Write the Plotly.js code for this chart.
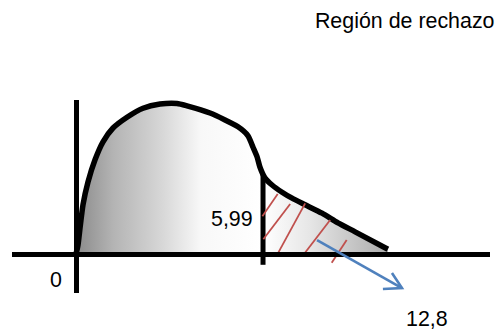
<!DOCTYPE html>
<html>
<head>
<meta charset="utf-8">
<script src="https://cdn.plot.ly/plotly-3.0.1.min.js"></script>
<style>html,body{margin:0;padding:0;background:#fff;}#chart{width:495px;height:332px;}</style>
</head>
<body>
<div id="chart"></div>
<script>
// Chi-square density sketch (schematic values)
var curveX = [0, 0.064, 0.128, 0.224, 0.384, 0.609, 0.865, 1.185, 1.634, 2.146, 2.691, 3.235, 3.555, 4.292, 5.189, 5.51, 5.67, 5.80, 5.89, 6.05, 6.28, 6.60, 6.92, 7.34, 7.88, 8.39, 8.94, 9.99];
var curveY = [0, 0.015, 0.043, 0.082, 0.120, 0.157, 0.187, 0.210, 0.228, 0.243, 0.250, 0.251, 0.247, 0.235, 0.212, 0.197, 0.178, 0.162, 0.145, 0.127, 0.115, 0.103, 0.093, 0.082, 0.068, 0.052, 0.037, 0.008];
var criticalValue = 5.99;
var criticalLineY = [-0.018, 0.132];
// rejection-region hatch strokes (start/end pairs)
var hatchX = [5.97, 6.46, null, 6.00, 6.86, null, 6.48, 7.34, null, 7.28, 8.14, null, 8.19, 8.67];
var hatchY = [0.063, 0.100, null, 0.0245, 0.0833, null, 0.0022, 0.0845, null, -0.0017, 0.0567, null, -0.0145, 0.0233];
// arrow towards the observed value: tail, tip, and the two barb ends
var arrowX = [7.72, 10.44];
var arrowY = [0.0233, -0.0567];
var barbX = [10.12, 9.83];
var barbY = [-0.0317, -0.0583];
var labelZero = '0';
var labelCritical = '5,99';
var labelObserved = '12,8';
var titleText = 'Región de rechazo';

var font = {family: '"Liberation Sans", Arial, sans-serif', size: 21.4, color: '#000'};
var arrowColor = '#4f81bd';

var traces = [
  {
    x: curveX, y: curveY, type: 'scatter', mode: 'lines',
    line: {color: '#000', width: 5.5, shape: 'spline', smoothing: 0.6},
    fill: 'tozeroy',
    fillgradient: {
      type: 'horizontal', start: 0, stop: 10,
      colorscale: [[0, '#8a8a8a'], [0.12, '#b4b4b4'], [0.28, '#d8d8d8'], [0.4, '#f8f8f8'], [0.6, '#ffffff'], [0.75, '#e6e6e6'], [1, '#ababab']]
    },
    hoverinfo: 'skip', showlegend: false
  },
  {
    x: [criticalValue, criticalValue], y: criticalLineY, type: 'scatter', mode: 'lines',
    line: {color: '#000', width: 5}, hoverinfo: 'skip', showlegend: false
  },
  {
    x: hatchX, y: hatchY, type: 'scatter', mode: 'lines',
    line: {color: '#c0504d', width: 1.8}, connectgaps: false, hoverinfo: 'skip', showlegend: false
  }
];

var shapes = [
  {type: 'line', xref: 'x', yref: 'y', layer: 'above',
   x0: arrowX[0], y0: arrowY[0], x1: arrowX[1], y1: arrowY[1],
   line: {color: arrowColor, width: 2.6}},
  {type: 'path', xref: 'x', yref: 'y', layer: 'above',
   path: 'M' + barbX[0] + ',' + barbY[0] + 'L' + arrowX[1] + ',' + arrowY[1] + 'L' + barbX[1] + ',' + barbY[1],
   line: {color: arrowColor, width: 2.6}, fillcolor: 'rgba(0,0,0,0)'}
];

var layout = {
  width: 495, height: 332,
  margin: {l: 12, r: 5, t: 100, b: 39, pad: 0},
  paper_bgcolor: '#fff', plot_bgcolor: 'rgba(0,0,0,0)',
  showlegend: false,
  font: font,
  title: {text: titleText, font: font, x: 0.999, xanchor: 'right', xref: 'container', y: 0.937, yanchor: 'middle', yref: 'container'},
  xaxis: {range: [-2.05, 13.26], showgrid: false, showticklabels: false, ticks: '', showline: false,
          zeroline: true, zerolinecolor: '#000', zerolinewidth: 5, zerolinelayer: 'above traces', fixedrange: true},
  yaxis: {range: [-0.065, 0.2567], showgrid: false, showticklabels: false, ticks: '', showline: false,
          zeroline: true, zerolinecolor: '#000', zerolinewidth: 5, zerolinelayer: 'above traces', fixedrange: true},
  shapes: shapes,
  annotations: [
    {text: labelZero, xref: 'paper', yref: 'paper', x: 0.1088, y: 0.0674, xanchor: 'right', yanchor: 'middle', showarrow: false, font: font},
    {text: labelCritical, xref: 'paper', yref: 'paper', x: 0.5084, y: 0.3834, xanchor: 'right', yanchor: 'middle', showarrow: false, font: font},
    {text: labelObserved, xref: 'paper', yref: 'paper', x: 0.8682, y: -0.1347, xanchor: 'center', yanchor: 'middle', showarrow: false, font: font}
  ]
};

Plotly.newPlot('chart', traces, layout, {staticPlot: true, displayModeBar: false});
</script>
</body>
</html>
